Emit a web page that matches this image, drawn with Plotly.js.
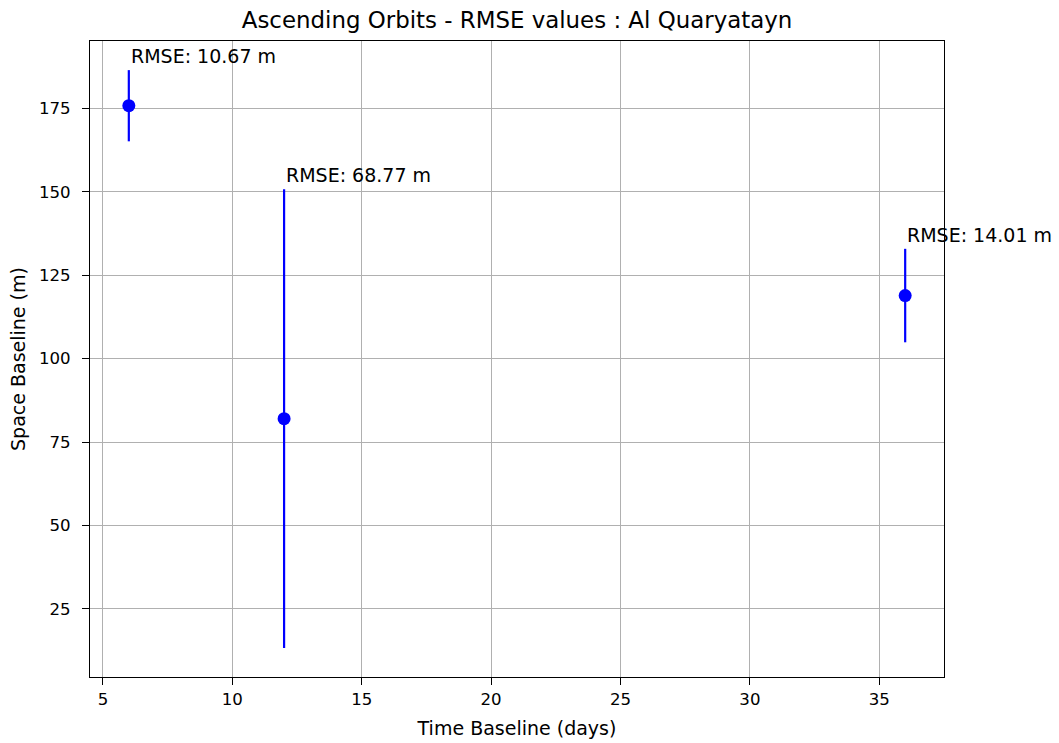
<!DOCTYPE html>
<html>
<head>
<meta charset="utf-8">
<script src="https://cdn.plot.ly/plotly-3.0.1.min.js"></script>
<style>html,body{margin:0;padding:0;background:#fff;}#chart{width:1059px;height:743px;}</style>
</head>
<body>
<div id="chart"></div>
<script>
const timeBaseline = [6, 12, 36];
const spaceBaseline = [175.8, 82.0, 118.9];
const rmse = [10.67, 68.77, 14.01];
const rmseLabels = ["RMSE: 10.67 m", "RMSE: 68.77 m", "RMSE: 14.01 m"];

const font = "DejaVu Sans, sans-serif";

const trace = {
  x: timeBaseline,
  y: spaceBaseline,
  type: "scatter",
  mode: "markers",
  marker: {color: "#0000ff", size: 13},
  error_y: {type: "data", array: rmse, visible: true, color: "#0000ff", thickness: 2.2, width: 0},
  hoverinfo: "x+y"
};

const annotations = timeBaseline.map((t, i) => ({
  x: t, y: spaceBaseline[i] + rmse[i],
  xref: "x", yref: "y",
  text: rmseLabels[i],
  showarrow: false,
  xanchor: "left", yanchor: "bottom",
  xshift: 0, yshift: 1,
  font: {family: font, size: 19, color: "#000"}
}));

const axisCommon = {
  showline: true, linecolor: "#000", linewidth: 1, mirror: true,
  showgrid: true, gridcolor: "#b0b0b0", gridwidth: 1,
  zeroline: false,
  ticks: "outside", ticklen: 7, tickwidth: 1, tickcolor: "#000",
  tickfont: {family: font, size: 16.6, color: "#000"}
};

const layout = {
  width: 1059, height: 743,
  paper_bgcolor: "#fff", plot_bgcolor: "#fff",
  margin: {l: 90, r: 115, t: 41, b: 66},
  showlegend: false,
  title: {text: "Ascending Orbits - RMSE values : Al Quaryatayn", font: {family: font, size: 22.9, color: "#000"}, xref: "paper", x: 0.5, xanchor: "center", yref: "container", y: 0.973, yanchor: "middle"},
  xaxis: Object.assign({}, axisCommon, {
    range: [4.5, 37.5], tickvals: [5, 10, 15, 20, 25, 30, 35],
    ticklabelstandoff: 0,
    title: {text: "Time Baseline (days)", font: {family: font, size: 19, color: "#000"}, standoff: 13}
  }),
  yaxis: Object.assign({}, axisCommon, {
    range: [4.57, 195.2], tickvals: [25, 50, 75, 100, 125, 150, 175],
    ticklabelstandoff: 8,
    title: {text: "Space Baseline (m)", font: {family: font, size: 19, color: "#000"}, standoff: 8}
  }),
  annotations: annotations
};

Plotly.newPlot("chart", [trace], layout, {displayModeBar: false, staticPlot: true});
</script>
</body>
</html>
